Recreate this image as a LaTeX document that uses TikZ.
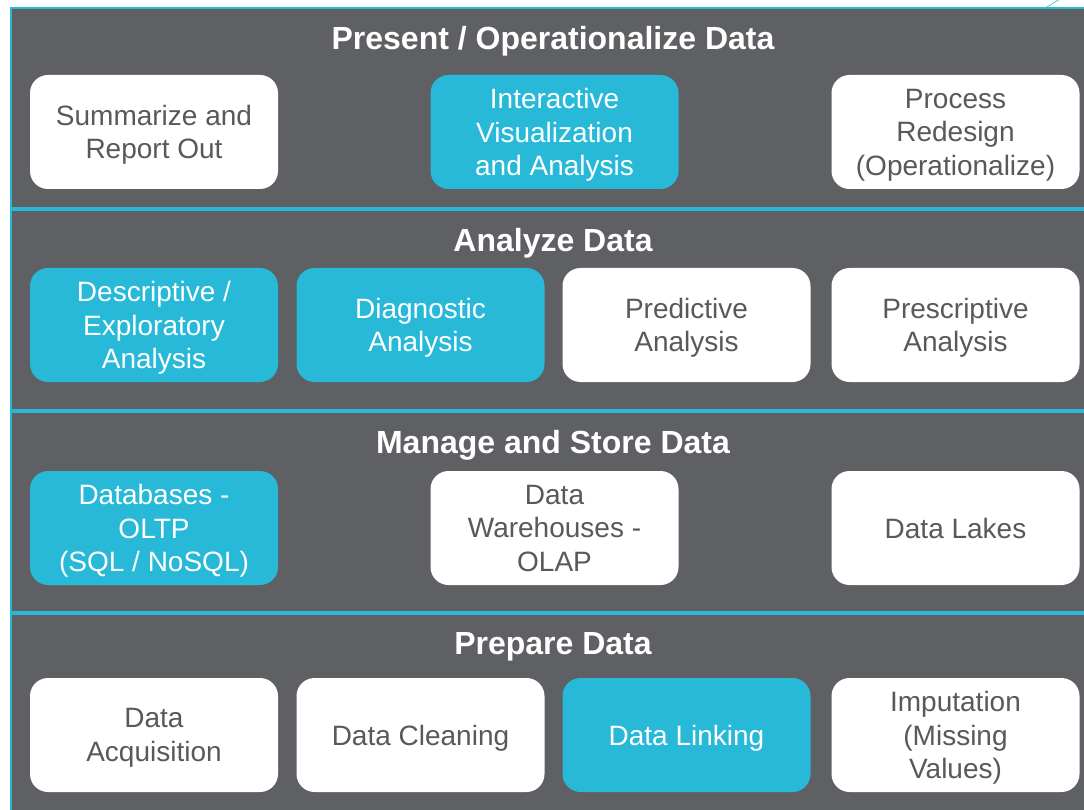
\documentclass[tikz,border=0pt]{standalone}
\usepackage{fontspec}
\setmainfont{Liberation Sans}
\usepackage{tikz}
\usetikzlibrary{positioning}
\usepackage{xcolor}

\definecolor{bandgray}{HTML}{5F6064}
\definecolor{tealblue}{HTML}{27B9D7}
\definecolor{textgray}{HTML}{595959}

\tikzset{
  band/.style={fill=bandgray, draw=tealblue, line width=2.2pt},
  bandtitle/.style={font=\fontsize{32}{38}\selectfont\bfseries, text=white, yshift=-3pt},
  plainbox/.style={fill=white, rounded corners=18pt, minimum width=248pt, minimum height=114pt,
    align=center, text=textgray, font=\fontsize{28}{33.5}\selectfont, inner sep=2pt,
    text depth=-2pt},
  hibox/.style={plainbox, fill=tealblue, text=white}
}

\begin{document}
\begin{tikzpicture}[x=1pt, y=-1pt]
\useasboundingbox (0,0) rectangle (1084,810);

% Bands
\draw[band] (11, 8) rectangle (1095, 208);
\draw[band] (11, 210) rectangle (1095, 410);
\draw[band] (11, 412) rectangle (1095, 612);
\draw[band] (11, 614) rectangle (1095, 825);
\draw[tealblue, line width=0.6pt] (1045, 8) -- (1060, -1);

% Band 1: Present / Operationalize Data
\node[bandtitle] (presenttitle) at (553, 38) {Present / Operationalize Data};
\node[plainbox] (summarize) at (154, 132) {Summarize and\\Report Out};
\node[hibox] (interactive) at (554.5, 132) {Interactive\\Visualization\\and Analysis};
\node[plainbox] (redesign) at (955.5, 132) {Process\\Redesign\\(Operationalize)};

% Band 2: Analyze Data
\node[bandtitle] (analyzetitle) at (553, 240) {Analyze Data};
\node[hibox] (descriptive) at (154, 325) {Descriptive /\\Exploratory\\Analysis};
\node[hibox] (diagnostic) at (420.5, 325) {Diagnostic\\Analysis};
\node[plainbox] (predictive) at (686.5, 325) {Predictive\\Analysis};
\node[plainbox] (prescriptive) at (955.5, 325) {Prescriptive\\Analysis};

% Band 3: Manage and Store Data
\node[bandtitle] (managetitle) at (553, 442) {Manage and Store Data};
\node[hibox] (databases) at (154, 528) {Databases -\\OLTP\\(SQL / NoSQL)};
\node[plainbox] (warehouses) at (554.5, 528) {Data\\Warehouses -\\OLAP};
\node[plainbox] (lakes) at (955.5, 528) {Data Lakes};

% Band 4: Prepare Data
\node[bandtitle] (preparetitle) at (553, 644) {Prepare Data};
\node[plainbox] (acquisition) at (154, 735) {Data\\Acquisition};
\node[plainbox] (cleaning) at (420.5, 735) {Data Cleaning};
\node[hibox] (linking) at (686.5, 735) {Data Linking};
\node[plainbox] (imputation) at (955.5, 735) {Imputation\\(Missing\\Values)};

\end{tikzpicture}
\end{document}
